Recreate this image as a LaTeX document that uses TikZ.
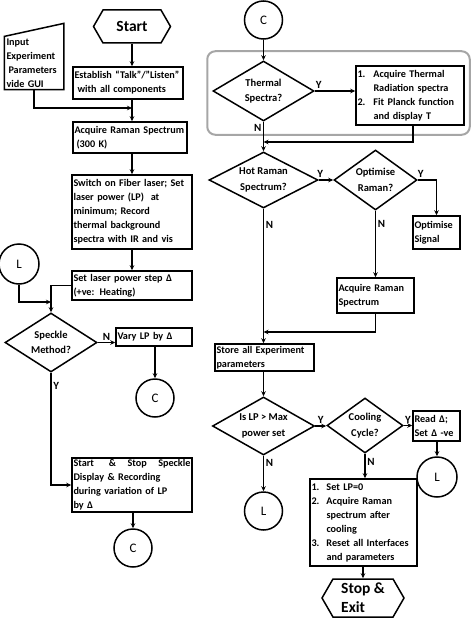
\documentclass[tikz,border=0pt]{standalone}
\usepackage{fontspec}
\setmainfont{Carlito}
\usetikzlibrary{arrows.meta,shapes.geometric,shapes.symbols,fit}
\newcommand{\dlt}{Δ}

\begin{document}
\begin{tikzpicture}[x=1pt, y=-1pt, >={Stealth[length=5pt,width=4.5pt]},
    proc/.style={draw, line width=1.5pt, align=left, inner sep=1.5pt,
        font=\fontsize{10.2}{14}\selectfont\bfseries},
    decision/.style={draw, diamond, line width=1.5pt, align=center, inner sep=0pt, aspect=1.7,
        font=\fontsize{10.5}{15.5}\selectfont\bfseries},
    conn/.style={draw, circle, line width=1.5pt, minimum size=38pt, inner sep=0pt,
        font=\fontsize{13}{13}\selectfont},
    terminal/.style={draw, signal, signal to=west and east, signal pointer angle=120,
        line width=1.5pt, inner sep=1pt, font=\fontsize{15.5}{19}\selectfont\bfseries},
    flowline/.style={line width=1.5pt, ->},
    yn/.style={font=\fontsize{11}{11}\selectfont\bfseries, inner sep=1.5pt}
]
    \useasboundingbox (0,0) rectangle (474,618);

    % --- Left column ---
    \node[terminal, minimum width=77pt, minimum height=33pt] (start) at (132,26.5) {Start};

    \node[proc, draw=none, text width=55pt, minimum height=50pt] (gui) at (34,63)
        {Input\\Experiment\\\hspace*{2pt}Parameters\\vide GUI};
    \draw[line width=1.5pt] (gui.south west) -- (gui.south east)
        -- ([yshift=13pt]gui.north east) -- (gui.north west) -- cycle;

    \node[proc, text width=107pt, minimum height=32pt] (talk) at (128,83)
        {\mbox{Establish “Talk”/”Listen”}\\\hspace*{3pt}with all components};
    \node[proc, text width=111pt, minimum height=31pt] (raman0) at (130,137.5)
        {\mbox{Acquire Raman Spectrum}\\\hspace*{2pt}(300 K)};
    \node[proc, text width=117pt, minimum height=74pt] (laser) at (132,212)
        {\mbox{Switch on Fiber laser; Set}\\laser power (LP)~ at\\minimum; Record\\thermal background\\\mbox{spectra with IR and vis}};
    \node[proc, text width=117pt, minimum height=29pt] (deltabox) at (132,285.5)
        {Set laser power step \dlt\\(+ve: Heating)};

    \node[conn, minimum size=40pt] (lloop) at (19,264) {L};
    \coordinate (guijoin) at (132,108);
    \coordinate (loopjoin) at (51,302);

    \node[decision, minimum width=92pt, minimum height=59pt] (speckle) at (51,342.5) {Speckle\\Method?};
    \node[proc, text width=73pt, minimum height=18pt] (vary) at (154,337) {Vary LP by \dlt};
    \node[conn] (cvary) at (155,398) {C};

    \node[proc, text width=117pt, minimum height=54pt] (speckbox) at (132,485)
        {Start \hfill\&\hfill Stop\hfill Speckle\\Display \& Recording\\during variation of LP\\by \dlt};
    \node[conn] (cspeck) at (133,548) {C};

    % --- Right column ---
    \node[conn] (ctop) at (263.5,20) {C};
    \node[decision, minimum width=101pt, minimum height=60pt] (thermal) at (263.5,91) {Thermal\\Spectra?};
    \node[proc, text width=105pt, minimum height=55pt] (thermbox) at (410,95.5)
        {\begin{tabular}{@{}p{16pt}@{}l@{}}
            1. & Acquire Thermal\\ & Radiation spectra\\
            2. & Fit Planck function\\ & and display T
        \end{tabular}};
    \node[fit=(thermal)(thermbox), draw=gray!70, line width=2pt, rounded corners=8pt,
        inner xsep=5pt, inner ysep=9pt] (thermgroup) {};
    \coordinate (thermjoin) at (263.5,142);

    \node[decision, minimum width=109pt, minimum height=56pt] (hot) at (263.5,180) {Hot Raman\\Spectrum?};
    \node[decision, minimum width=83pt, minimum height=60pt, aspect=1.4] (optraman) at (375.5,180) {Optimise\\Raman?};
    \node[proc, text width=44pt, minimum height=33pt] (optsig) at (436.5,232.5) {Optimise\\Signal};
    \node[proc, text width=74pt, minimum height=35pt] (raman1) at (375.5,295.5) {Acquire Raman\\Spectrum};
    \coordinate (ramanjoin) at (263.5,332);

    \node[proc, text width=96pt, minimum height=27pt] (store) at (264.5,357.5) {\mbox{Store all Experiment}\\parameters};
    \node[decision, minimum width=102pt, minimum height=58pt] (maxlp) at (263.5,426) {Is LP > Max\\power set};
    \node[decision, minimum width=76pt, minimum height=55pt, aspect=1.3] (cooling) at (365,425.5) {Cooling\\Cycle?};
    \node[proc, text width=44pt, minimum height=30pt] (readd) at (436.5,426) {Read \dlt;\\\mbox{Set \dlt\ -ve}};
    \node[conn, minimum size=40pt] (lright) at (437,477) {L};
    \node[conn] (lmid) at (263.5,511) {L};

    \node[proc, text width=104pt, minimum height=81pt] (final) at (363.5,522.5)
        {\begin{tabular}{@{}p{15pt}@{}l@{}}
            1. & Set LP=0\\
            2. & Acquire Raman\\ & spectrum after\\ & cooling\\
            3. & Reset all Interfaces\\ & and parameters
        \end{tabular}};
    \node[terminal, align=left, minimum width=82pt, minimum height=38pt] (stop) at (363,598) {Stop \&\\Exit};

    % --- Connectors, left ---
    \draw[flowline] (start.south) -- (start.south |- talk.north);
    \draw[flowline] (gui.south) |- (guijoin);
    \draw[flowline] (talk.south -| start) -- (start |- raman0.north);
    \draw[flowline] (raman0.south -| start) -- (start |- laser.north);
    \draw[flowline] (laser.south -| start) -- (start |- deltabox.north);
    \draw[flowline] (deltabox.west) -| (speckle.north);
    \draw[flowline] (lloop.south) |- (loopjoin);
    \draw[flowline] (speckle.east) -- node[yn, above] {N} (speckle.east -| vary.west);
    \draw[flowline] (vary.south -| cvary) -- (cvary.north);
    \draw[flowline] (speckle.south) |- node[yn, pos=0.06, right] {Y} (speckbox.west);
    \draw[flowline] (speckbox.south -| cspeck) -- (cspeck.north);

    % --- Connectors, right ---
    \draw[flowline] (ctop.south) -- (thermal.north);
    \draw[flowline] (thermal.east) -- node[yn, pos=0.1, above] {Y} (thermal.east -| thermbox.west);
    \draw[flowline] (thermal.south) -- node[yn, pos=0.2, left] {N} (hot.north);
    \draw[flowline] ([xshift=3pt]thermbox.south) |- (thermjoin);
    \draw[flowline] (hot.east) -- node[yn, pos=0.1, above] {Y} (optraman.west);
    \draw[flowline] (optraman.east) -| node[yn, pos=0.08, above] {Y} (optsig.north);
    \draw[flowline] (optraman.south) -- node[yn, pos=0.2, right] {N} (raman1.north);
    \draw[flowline] (hot.south) -- node[yn, pos=0.12, right] {N} (hot.south |- store.north);
    \draw[flowline] (raman1.south) |- (ramanjoin);
    \draw[flowline] (store.south -| maxlp) -- (maxlp.north);
    \draw[flowline] (maxlp.east) -- node[yn, above] {Y} (maxlp.east -| cooling.west);
    \draw[flowline] (cooling.east) -- node[yn, above] {Y} (cooling.east -| readd.west);
    \draw[flowline] (readd.south -| lright) -- (lright.north);
    \draw[flowline] (maxlp.south) -- node[yn, pos=0.2, right] {N} (lmid.north);
    \draw[flowline] (cooling.south) -- node[yn, pos=0.35, right] {N} (cooling.south |- final.north);
    \draw[flowline] (final.south -| stop) -- (stop.north);

\end{tikzpicture}
\end{document}
